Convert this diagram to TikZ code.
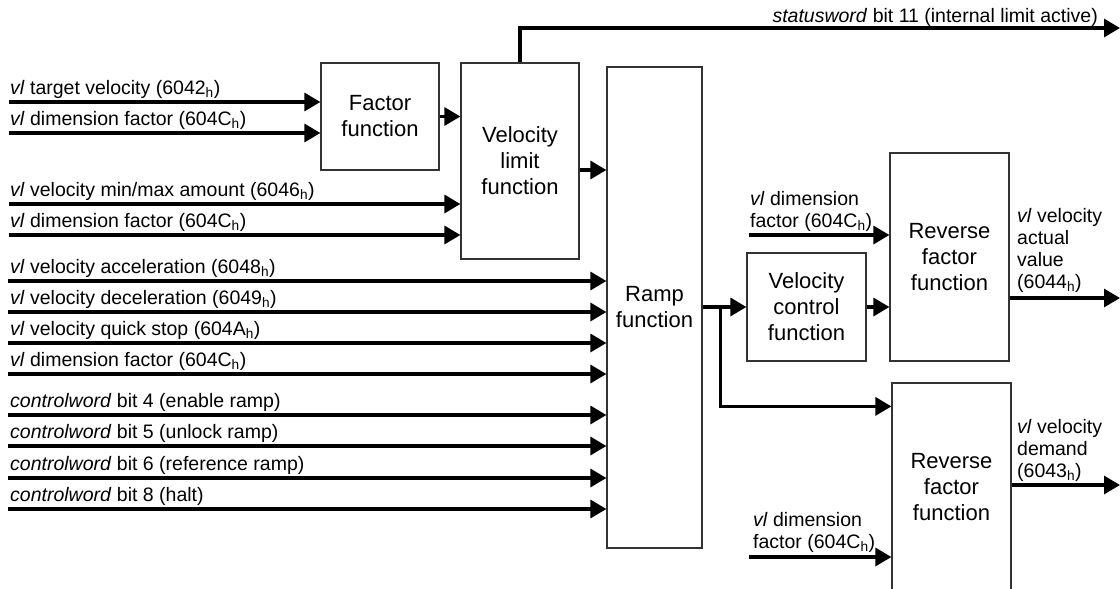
\documentclass[tikz,border=0pt]{standalone}
\usepackage{fontspec}
\setmainfont{Liberation Sans}
\usetikzlibrary{positioning, calc, arrows.meta}

\newcommand{\vlobj}{\textit{vl}}
\newcommand{\hexh}[1]{#1\textsubscript{h}}

\begin{document}
\begin{tikzpicture}[
        x=1pt, y=-1pt,
        block/.style={rectangle, draw=black!80, line width=1.2pt, inner sep=0pt, align=center, font=\fontsize{22}{26}\selectfont},
        sig/.style={line width=3.2pt, -{Triangle[length=16pt, width=18pt]}},
        lbl/.style={inner sep=0pt, anchor=base west, align=left, font=\fontsize{19.5}{22}\selectfont}
    ]
    \useasboundingbox (0,0) rectangle (1120,589);

    % Blocks
    \node[block, minimum width=118pt, minimum height=107pt] (fac) at (380,116.5) {Factor\\function};
    \node[block, minimum width=118pt, minimum height=196pt] (vlim) at (520,161) {Velocity\\limit\\function};
    \node[block, minimum width=95pt, minimum height=481pt] (ramp) at (654.5,307.5) {Ramp\\function};
    \node[block, minimum width=119pt, minimum height=108pt] (vc) at (806.5,307) {Velocity\\control\\function};
    \node[block, minimum width=119pt, minimum height=208pt] (rev1) at (949.5,257) {Reverse\\factor\\function};
    \node[block, minimum width=119pt, minimum height=208pt] (rev2) at (951.5,487) {Reverse\\factor\\function};

    % Factor inputs
    \coordinate (i1) at (9,102);
    \coordinate (i2) at (9,133);
    \draw[sig] (i1) -- (i1 -| fac.west);
    \draw[sig] (i2) -- (i2 -| fac.west);
    \node[lbl] (il1) at ($(i1)+(1,-8)$) {\vlobj{} target velocity (\hexh{6042})};
    \node[lbl] (il2) at ($(i2)+(1,-8)$) {\vlobj{} dimension factor (\hexh{604C})};

    % Velocity limit inputs
    \coordinate (i3) at (9,204);
    \coordinate (i4) at (9,235);
    \draw[sig] (i3) -- (i3 -| vlim.west);
    \draw[sig] (i4) -- (i4 -| vlim.west);
    \node[lbl] (il3) at ($(i3)+(1,-8)$) {\vlobj{} velocity min/max amount (\hexh{6046})};
    \node[lbl] (il4) at ($(i4)+(1,-8)$) {\vlobj{} dimension factor (\hexh{604C})};
    \draw[sig] (fac.east) -- (fac.east -| vlim.west);

    % Statusword
    \coordinate (st) at (1120,28);
    \draw[sig] (vlim.north) |- (st);
    \node[lbl, anchor=base east] (stl) at ($(st)+(-22,-6)$) {\textit{statusword} bit 11 (internal limit active)};

    % Ramp inputs
    \coordinate (v2r) at ($(vlim.east)+(0,9)$);
    \draw[sig] (v2r) -- (v2r -| ramp.west);
    \foreach \y/\txt [count=\k] in {
            281/{\vlobj{} velocity acceleration (\hexh{6048})},
            312/{\vlobj{} velocity deceleration (\hexh{6049})},
            343/{\vlobj{} velocity quick stop (\hexh{604A})},
            374/{\vlobj{} dimension factor (\hexh{604C})},
            415/{\textit{controlword} bit 4 (enable ramp)},
            446/{\textit{controlword} bit 5 (unlock ramp)},
            478/{\textit{controlword} bit 6 (reference ramp)},
            509/{\textit{controlword} bit 8 (halt)}} {
        \coordinate (r\k) at (8,\y);
        \draw[sig] (r\k) -- (r\k -| ramp.west);
        \node[lbl] (rl\k) at ($(r\k)+(2,-8)$) {\txt};
    }

    % Ramp output
    \coordinate (ro) at (ramp.east |- vc.west);
    \coordinate (br) at ($(ro)+(18,0)$);
    \coordinate (b2) at ($(rev2.north west)+(0,24)$);
    \draw[sig] (ro) -- (vc.west);
    \draw[sig] (br) |- (b2);
    \draw[sig] (vc.east) -- (vc.east -| rev1.west);

    % Reverse factor inputs
    \coordinate (d1) at (749,235);
    \coordinate (d2) at (749,557);
    \draw[sig] (d1) -- (d1 -| rev1.west);
    \draw[sig] (d2) -- (d2 -| rev2.west);
    \node[lbl] (dl1) at (750,227) {\vlobj{} dimension\\factor (\hexh{604C})};
    \node[lbl] (dl2) at (753,548) {\vlobj{} dimension\\factor (\hexh{604C})};

    % Outputs
    \coordinate (o1) at (1120,298);
    \coordinate (o2) at (1120,485);
    \draw[sig] (o1 -| rev1.east) -- (o1);
    \draw[sig] (o2 -| rev2.east) -- (o2);
    \node[lbl] (ol1) at (1017,288) {\vlobj{} velocity\\actual\\value\\(\hexh{6044})};
    \node[lbl] (ol2) at (1017,477) {\vlobj{} velocity\\demand\\(\hexh{6043})};

\end{tikzpicture}
\end{document}
